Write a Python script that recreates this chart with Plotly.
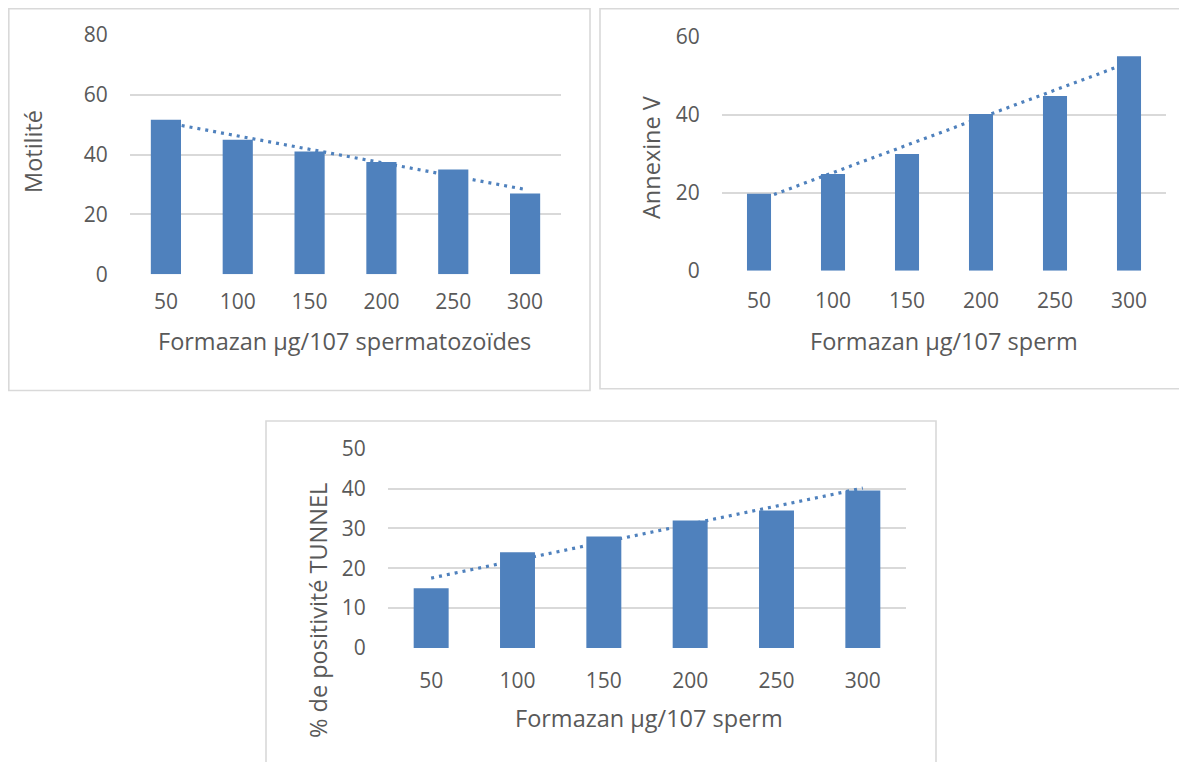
import numpy as np
import plotly.graph_objects as go

W, H = 1187, 762
OFF = 8  # default page margin of the html body

# ---------------- data ----------------
categories = ["50", "100", "150", "200", "250", "300"]
motilite = [51.6, 44.9, 41.0, 37.5, 35.0, 27.0]
annexine = [19.7, 24.8, 29.9, 40.2, 44.8, 55.0]
tunnel = [15.0, 24.0, 28.0, 32.0, 34.5, 39.5]

y_titles = ["Motilité", "Annexine V", "% de positivité TUNNEL"]
x_titles = ["Formazan µg/107 spermatozoïdes", "Formazan µg/107 sperm", "Formazan µg/107 sperm"]
y_max = [80, 60, 50]
y_dtick = [20, 20, 10]

# ---------------- style / layout (page pixels) ----------------
BAR = "#4F81BD"
GRID = "#D9D9D9"
TXT = "#595959"
FONT = "Open Sans"

panels = [
    dict(px=(130, 561), py=(274.3, 34.7), bw=0.42,
         ytitle_xy=(33, 152), xtitle_xy=(344, 341),
         frame=(8.8, 8.8, 590, 390.5), xtl=8),
    dict(px=(722, 1166), py=(270.7, 36.7), bw=0.325,
         ytitle_xy=(651, 157), xtitle_xy=(944, 341),
         frame=(600, 8.8, 1200, 388.7), xtl=11),
    dict(px=(388, 906), py=(648, 448.7), bw=0.405,
         ytitle_xy=(318, 610), xtitle_xy=(649, 718),
         frame=(266, 421, 936, 780), xtl=14),
]
series = [motilite, annexine, tunnel]


def fx(p):
    return (p - OFF) / W


def fy(p):
    return 1 - (p - OFF) / H


fig = go.Figure()
layout = dict(
    width=W, height=H,
    margin=dict(l=0, r=0, t=0, b=0, autoexpand=False),
    paper_bgcolor="white", plot_bgcolor="rgba(0,0,0,0)",
    showlegend=False,
    font=dict(family=FONT, color=TXT, size=21),
    shapes=[], annotations=[],
)

idx = np.arange(len(categories))
for i, (p, vals) in enumerate(zip(panels, series)):
    n = i + 1
    xa = "x" if n == 1 else f"x{n}"
    ya = "y" if n == 1 else f"y{n}"
    yb = f"y{n + 3}"
    xkey = "xaxis" if n == 1 else f"xaxis{n}"
    ykey = "yaxis" if n == 1 else f"yaxis{n}"
    ybkey = f"yaxis{n + 3}"

    slope, inter = np.polyfit(idx, np.array(vals, dtype=float), 1)
    trend = slope * idx + inter

    # linear trendline on the main (lower) subplot
    fig.add_trace(go.Scatter(
        x=categories, y=trend, mode="lines", xaxis=xa, yaxis=ya,
        line=dict(color=BAR, width=3.2, dash="3px,5px"), hoverinfo="skip"))
    # bars on an overlaying subplot so they sit above the trendline
    fig.add_trace(go.Bar(
        x=categories, y=vals, xaxis=xa, yaxis=yb,
        marker=dict(color=BAR, line=dict(width=0)), width=p["bw"]))

    xdom = [fx(p["px"][0]), fx(p["px"][1])]
    ydom = [fy(p["py"][0]), fy(p["py"][1])]
    layout[xkey] = dict(
        domain=xdom, anchor=ya, type="category", range=[-0.5, 5.5],
        showgrid=False, zeroline=False, showline=False, automargin=False,
        ticks="outside", ticklen=p["xtl"], tickcolor="rgba(0,0,0,0)",
        tickfont=dict(size=21, color=TXT, family=FONT), fixedrange=True)
    layout[ykey] = dict(
        domain=ydom, anchor=xa, range=[0, y_max[i]], dtick=y_dtick[i],
        tick0=0, showgrid=True, gridcolor=GRID, gridwidth=1.6,
        zeroline=False, showline=False, automargin=False,
        ticks="outside", ticklen=17, tickcolor="rgba(0,0,0,0)",
        tickfont=dict(size=21, color=TXT, family=FONT), fixedrange=True)
    layout[ybkey] = dict(
        overlaying=ya, anchor=xa, range=[0, y_max[i]], visible=False,
        showgrid=False, zeroline=False, automargin=False, fixedrange=True)

    l, t, r, b = p["frame"]
    layout["shapes"].append(dict(
        type="rect", xref="paper", yref="paper",
        x0=fx(l), x1=fx(r), y0=fy(b), y1=fy(t),
        line=dict(color=GRID, width=1.6), fillcolor="rgba(0,0,0,0)", layer="below"))

    layout["annotations"].append(dict(
        text=y_titles[i], xref="paper", yref="paper",
        x=fx(p["ytitle_xy"][0]), y=fy(p["ytitle_xy"][1]),
        xanchor="center", yanchor="middle", textangle=-90, showarrow=False,
        font=dict(size=23.5, color=TXT, family=FONT)))
    layout["annotations"].append(dict(
        text=x_titles[i], xref="paper", yref="paper",
        x=fx(p["xtitle_xy"][0]), y=fy(p["xtitle_xy"][1]),
        xanchor="center", yanchor="middle", showarrow=False,
        font=dict(size=23.5, color=TXT, family=FONT)))

fig.update_layout(**layout)
fig.write_html("out.html")
